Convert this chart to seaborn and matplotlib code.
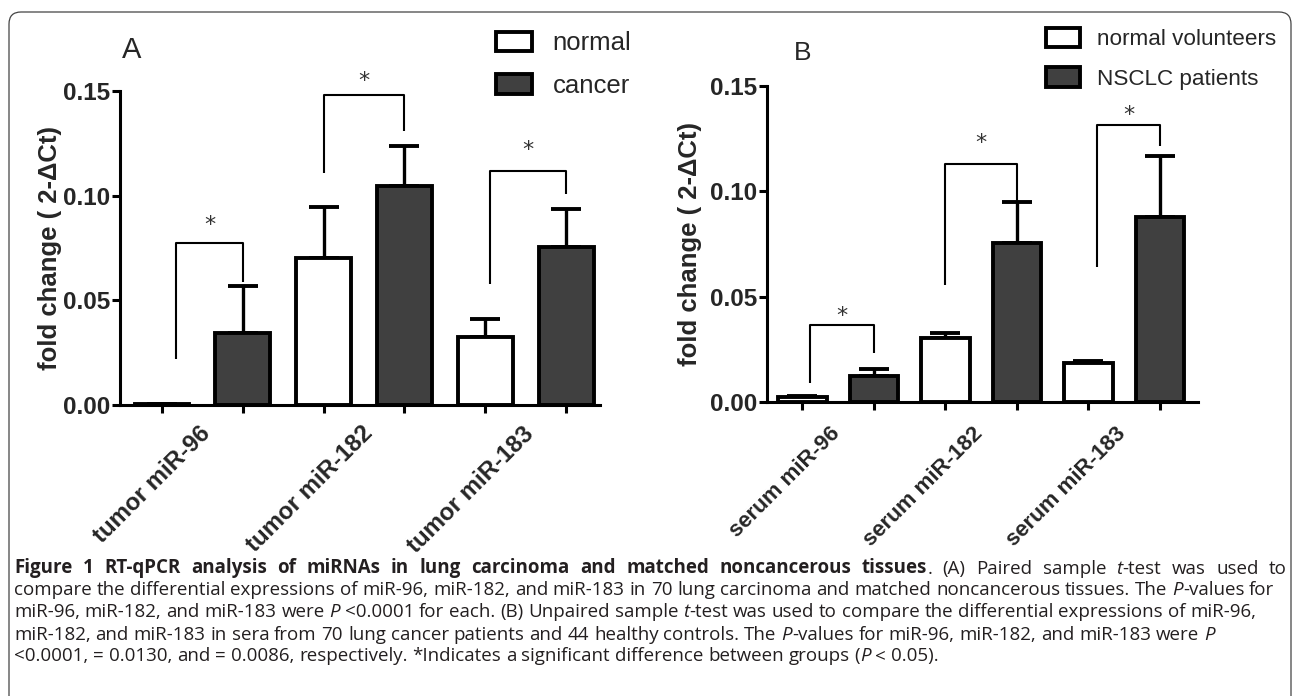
import numpy as np
import pandas as pd
import matplotlib
matplotlib.use('Agg')
import matplotlib.pyplot as plt
import matplotlib.transforms as mtransforms
from matplotlib.patches import FancyBboxPatch
import seaborn as sns


### data

# panel A - tissue
genes_a = ['tumor miR-96', 'tumor miR-182', 'tumor miR-183']
groups_a = ['normal', 'cancer']
normal_a = [0.0005, 0.0704, 0.0323]
cancer_a = [0.0345, 0.1046, 0.0756]
normal_a_sem = [0.0, 0.0243, 0.0086]
cancer_a_sem = [0.0225, 0.0193, 0.0182]
brk_top_a = [0.0775, 0.148, 0.1118]
brk_left_a = [0.022, 0.111, 0.0578]
brk_right_a = [0.0589, 0.131, 0.1008]
star_a = [0.0893, 0.158, 0.125]

# panel B - serum
genes_b = ['serum miR-96', 'serum miR-182', 'serum miR-183']
groups_b = ['normal volunteers', 'NSCLC patients']
normal_b = [0.0024, 0.0304, 0.0185]
cancer_b = [0.0123, 0.0755, 0.0878]
normal_b_sem = [0.0003, 0.0023, 0.001]
cancer_b_sem = [0.0034, 0.0194, 0.029]
brk_top_b = [0.0365, 0.113, 0.1315]
brk_left_b = [0.009, 0.0555, 0.064]
brk_right_b = [0.0233, 0.0949, 0.1215]
star_b = [0.0437, 0.1258, 0.1395]

yticks = [0, 0.05, 0.10, 0.15]
ytick_labels = ['0.00', '0.05', '0.10', '0.15']
ylabel = 'fold change ( 2-\u0394Ct)'

caption_lines = [
    [("Figure 1 RT-qPCR analysis of miRNAs in lung carcinoma and matched noncancerous tissues", 'b'),
     (". (A) Paired sample", 'r'), (" t", 'i'), ("-test was used to", 'r')],
    [("compare the differential expressions of miR-96, miR-182, and miR-183 in 70 lung carcinoma and matched noncancerous tissues. The", 'r'),
     (" P", 'i'), ("-values for", 'r')],
    [("miR-96, miR-182, and miR-183 were", 'r'), (" P", 'i'),
     (" <0.0001 for each. (B) Unpaired sample", 'r'), (" t", 'i'),
     ("-test was used to compare the differential expressions of miR-96,", 'r')],
    [("miR-182, and miR-183 in sera from 70 lung cancer patients and 44 healthy controls. The", 'r'),
     (" P", 'i'), ("-values for miR-96, miR-182, and miR-183 were", 'r'), (" P", 'i')],
    [("<0.0001, = 0.0130, and = 0.0086, respectively. *Indicates a significant difference between groups (", 'r'),
     ("P", 'i'), (" < 0.05).", 'r')],
]
caption_justify = [True, False, False, False, False]

DARK = '#404040'

sns.set_style('ticks')
plt.rcParams['font.family'] = ['Liberation Sans', 'DejaVu Sans']

fig = plt.figure(figsize=(12.93, 6.96), dpi=100)
fig.patch.set_facecolor('white')


def draw_panel(ax, genes, groups, normal, cancer, sems, brk_top, brk_left, brk_right, stars,
               shift, xlim, lab_size, lab_off, lab_pad, leg_size, leg_anchor, leg_geom, ylab_x):
    df = pd.DataFrame({'gene': genes * 2,
                       'group': [groups[0]] * len(genes) + [groups[1]] * len(genes),
                       'value': normal + cancer})
    sns.barplot(data=df, x='gene', y='value', hue='group', order=genes, hue_order=groups,
                palette=['white', DARK], saturation=1, edgecolor='black', linewidth=2.8,
                width=1.0, gap=0.32, errorbar=None, legend=False, ax=ax)
    bars = list(ax.containers)

    # error bars, upper side only
    centers = []
    for cont, err in zip(bars, sems):
        xs = [p.get_x() + p.get_width() / 2 for p in cont.patches]
        hs = [p.get_height() for p in cont.patches]
        ax.errorbar(xs, hs, yerr=[np.zeros(len(err)), err], fmt='none', ecolor='black',
                    elinewidth=2.4, capsize=10.8, capthick=2.8, zorder=0.5)
        centers.append(xs)

    # significance brackets
    for i in range(len(genes)):
        xl = centers[0][i] + shift[i]
        xr = centers[1][i]
        ax.plot([xl, xl, xr, xr], [brk_left[i], brk_top[i], brk_top[i], brk_right[i]],
                color='black', lw=1.5, clip_on=False, solid_capstyle='butt')
        ax.annotate('*', ((xl + xr) / 2, stars[i]), xytext=(0, -9), textcoords='offset points',
                    ha='center', va='baseline', fontsize=16, family='DejaVu Sans',
                    color='#333333', annotation_clip=False)

    ax.set_xlim(*xlim)
    ax.set_ylim(0, 0.15)
    ax.set_xlabel('')
    ax.set_ylabel(ylabel, fontsize=18.5, fontweight='bold')
    ax.yaxis.set_label_coords(ylab_x, 0.5)

    ax.set_xticks(sorted(centers[0] + centers[1]), [''] * (2 * len(genes)))
    ax.set_xticks([i + lab_off for i in range(len(genes))], genes, minor=True,
                  rotation=45, ha='right', va='top', fontweight='bold', fontsize=lab_size)
    ax.tick_params(axis='x', which='major', length=5.8, width=2.2, color='black')
    ax.tick_params(axis='x', which='minor', length=0, pad=lab_pad)
    ax.set_yticks(yticks, ytick_labels, fontweight='bold', fontsize=17.5)
    ax.tick_params(axis='y', length=5.8, width=2.2, pad=1.5, color='black')

    sns.despine(ax=ax)
    for s in ['left', 'bottom']:
        ax.spines[s].set_linewidth(2.2)
        ax.spines[s].set_color('black')

    hl, hh, hp, ls = leg_geom
    ax.legend([c.patches[0] for c in bars], groups, loc='upper left',
              bbox_to_anchor=leg_anchor, bbox_transform=fig.transFigure, frameon=False,
              fontsize=leg_size, borderpad=0, borderaxespad=0, handlelength=hl,
              handleheight=hh, handletextpad=hp, labelspacing=ls)


ax_a = fig.add_axes([120 / 1293, 291 / 696, 480 / 1293, 314 / 696])
draw_panel(ax_a, genes_a, groups_a, normal_a, cancer_a, [normal_a_sem, cancer_a_sem],
           brk_top_a, brk_left_a, brk_right_a, star_a,
           shift=[0.087, 0, 0.03], xlim=(-0.51, 2.46), lab_size=17.3, lab_off=0.08, lab_pad=12.2,
           leg_size=18.5, leg_anchor=(496 / 1293, 1 - 31.5 / 696), leg_geom=(1.4, 0.8, 0.8, 0.72),
           ylab_x=-0.121)

ax_b = fig.add_axes([767 / 1293, 294 / 696, 431 / 1293, 316 / 696])
draw_panel(ax_b, genes_b, groups_b, normal_b, cancer_b, [normal_b_sem, cancer_b_sem],
           brk_top_b, brk_left_b, brk_right_b, star_b,
           shift=[0.05, 0, 0.063], xlim=(-0.4975, 2.517), lab_size=16, lab_off=0.042, lab_pad=15,
           leg_size=16.2, leg_anchor=(1046 / 1293, 1 - 28 / 696), leg_geom=(1.5, 0.95, 0.77, 0.745),
           ylab_x=-0.151)

fig.text(122 / 1293, 1 - 58 / 696, 'A', fontsize=21, va='baseline')
fig.text(794 / 1293, 1 - 60 / 696, 'B', fontsize=19, va='baseline')

# rounded frame around the whole figure (open at the bottom edge)
frame = FancyBboxPatch((9, -30), 1282, 714, boxstyle='round,pad=0,rounding_size=12',
                       transform=mtransforms.IdentityTransform(), fill=False,
                       ec='#444444', lw=0.9)
fig.add_artist(frame)

# caption, pixel coords from the top; words chained one after another
cap = fig.add_axes([0, 0, 1, 1])
cap.set_xlim(0, 1293)
cap.set_ylim(696, 0)
cap.axis('off')
renderer = fig.canvas.get_renderer()
cap_kw = dict(fontsize=13.5, family='Open Sans', va='bottom', ha='left', color='#231f20')
probe1 = cap.text(0, 0, 'x x', **cap_kw)
probe2 = cap.text(0, 0, 'xx', **cap_kw)
space_px = probe1.get_window_extent(renderer).width - probe2.get_window_extent(renderer).width
probe1.remove()
probe2.remove()

line_bottoms = [578, 599, 621, 644, 665]
x_left, x_right = 14, 1287
for y, runs, justify in zip(line_bottoms, caption_lines, caption_justify):
    tokens = []
    for txt, style in runs:
        for k, w in enumerate(txt.split(' ')):
            if w:
                tokens.append((w, style, k > 0))
    words = []
    prev = None
    for w, style, gap in tokens:
        kw = dict(cap_kw)
        if style == 'b':
            kw['fontweight'] = 'bold'
        if style == 'i':
            kw['fontstyle'] = 'italic'
        if prev is None:
            prev = cap.text(x_left, y, w, **kw)
        else:
            prev = cap.annotate(w, xy=(1, 0), xycoords=prev, xytext=(space_px if gap else 0, 0),
                                textcoords='offset pixels', **kw)
        words.append((prev, gap))
    if justify:
        n_gaps = sum(g for _, g in words)
        right = words[-1][0].get_window_extent(renderer).x1
        extra = (x_right - right) / max(n_gaps, 1)
        for t, g in words[1:]:
            if g:
                t.xyann = (space_px + extra, 0)

fig.savefig('out.png', dpi=100)
